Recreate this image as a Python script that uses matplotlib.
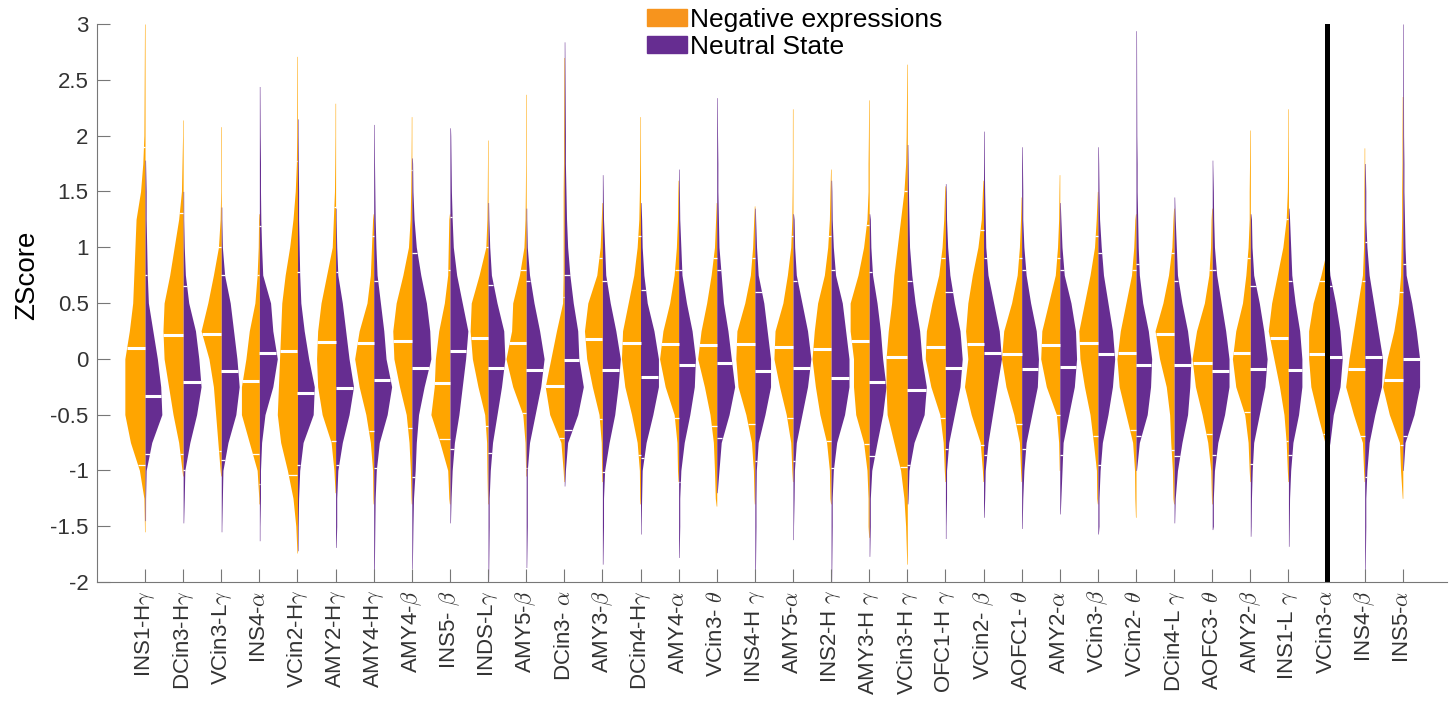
import numpy as np
import matplotlib
matplotlib.use("Agg")
import matplotlib.pyplot as plt
from matplotlib.patches import Patch

plt.rcParams['font.family'] = ['Liberation Sans', 'DejaVu Sans']
plt.rcParams['mathtext.fontset'] = 'cm'

# categorias (eixo x)
labels = ['INS1-H$\\gamma$', 'DCin3-H$\\gamma$', 'VCin3-L$\\gamma$', 'INS4-$\\alpha$',
          'VCin2-H$\\gamma$', 'AMY2-H$\\gamma$', 'AMY4-H$\\gamma$', 'AMY4-$\\beta$',
          'INS5- $\\beta$', 'INDS-L$\\gamma$', 'AMY5-$\\beta$', 'DCin3- $\\alpha$',
          'AMY3-$\\beta$', 'DCin4-H$\\gamma$', 'AMY4-$\\alpha$', 'VCin3- $\\theta$',
          'INS4-H $\\gamma$', 'AMY5-$\\alpha$', 'INS2-H $\\gamma$', 'AMY3-H $\\gamma$',
          'VCin3-H $\\gamma$', 'OFC1-H $\\gamma$', 'VCin2- $\\beta$', 'AOFC1- $\\theta$',
          'AMY2-$\\alpha$', 'VCin3-$\\beta$', 'VCin2- $\\theta$', 'DCin4-L $\\gamma$',
          'AOFC3- $\\theta$', 'AMY2-$\\beta$', 'INS1-L $\\gamma$', 'VCin3-$\\alpha$',
          'INS4-$\\beta$', 'INS5-$\\alpha$']

# niveis de zscore onde a densidade foi lida
levels = [-1.5, -1.25, -1.0, -0.75, -0.5, -0.25, 0.0, 0.25, 0.5, 0.75, 1.0, 1.25, 1.5, 1.75, 2.0]

# Negative expressions
neg_dens = [
    [0.5, 1, 5, 13, 18, 18, 18, 14, 11, 10, 9, 8, 4, 2, 1],
    [0, 0, 1, 4, 9, 13, 17, 18, 17, 12, 8, 4, 1.5, 1, 0.5],
    [0, 0, 1, 3, 5, 7, 11, 18, 12, 7, 2.5, 1, 0.5, 0.5, 0.5],
    [0, 0.5, 2, 9, 16, 16, 12, 9, 4, 2, 1, 0.7, 0, 0, 0],
    [1.5, 4, 9, 15, 18, 17, 16, 15, 14, 11, 7, 4, 2, 1, 0.7],
    [0, 1, 1.5, 4, 12, 16, 17, 16, 13, 8, 3, 2, 1, 0.7, 0.5],
    [0, 0.7, 1, 3, 7, 13, 17, 13, 6, 3, 2, 1, 0.5, 0, 0],
    [0, 0.7, 1.3, 2.5, 5, 11, 16, 17, 14, 8, 3, 1.5, 1, 0.7, 0.5],
    [0, 1, 2, 9, 17, 14, 13, 10, 5, 2, 1.5, 1, 0, 0, 0],
    [0, 0.5, 1, 1.3, 3, 9, 14, 16, 15, 8, 2, 1, 0.7, 0.5, 0],
    [0, 0, 0.5, 1, 3, 12, 18, 13, 12, 6, 2, 1, 0.7, 0.5, 0.5],
    [0, 0, 1, 3, 13, 17, 12, 7, 1.5, 1, 1, 1, 1, 0.7, 0.7],
    [0, 0, 0.7, 1, 3, 9, 14, 16, 13, 5, 2, 1, 0, 0, 0],
    [0, 0.7, 1, 3, 8, 14, 17, 16, 11, 6, 3, 1.5, 1, 0.7, 0.5],
    [0, 0, 1, 1.5, 4, 12, 17, 14, 8, 4, 2, 1, 0.7, 0, 0],
    [0, 1.3, 2, 3, 6, 11, 17, 14, 9, 5, 2, 1, 0, 0, 0],
    [0, 0.7, 1.3, 3, 8, 15, 17, 16, 9, 4, 2, 1, 0, 0, 0],
    [0, 0, 1, 2, 6, 12, 17, 16, 9, 5, 2, 1, 0.7, 0.5, 0.5],
    [0, 1, 1.5, 4, 10, 14, 17, 15, 12, 6, 3, 1.5, 1, 0, 0],
    [1, 1, 2, 5, 12, 14, 14, 17, 17, 10, 5, 2, 1, 1, 0.7],
    [1.5, 3, 6, 12, 18, 19, 19, 17, 14, 12, 9, 6, 3, 1.5, 1],
    [0, 0, 1, 2, 5, 13, 18, 17, 12, 6, 3, 1.5, 0.7, 0, 0],
    [0, 0, 1, 3, 11, 17, 14, 16, 14, 10, 5, 2, 1, 0, 0],
    [0, 0, 1, 2, 7, 14, 18, 16, 9, 4, 2, 1, 0, 0, 0],
    [0, 0, 0.5, 1, 3, 12, 17, 16, 10, 4, 2, 1, 0.7, 0, 0],
    [0, 1, 1.3, 4, 7, 12, 16, 17, 12, 7, 3, 1.5, 0.7, 0, 0],
    [0.7, 1, 1.3, 3, 9, 15, 17, 14, 9, 4, 2, 1, 0, 0, 0],
    [0, 1, 1.5, 3, 4, 7, 13, 17, 10, 5, 2, 1, 0, 0, 0],
    [0, 0.7, 1.3, 4, 9, 15, 18, 14, 7, 3, 1.5, 1, 0, 0, 0],
    [0, 0, 1, 2, 5, 13, 16, 13, 7, 4, 2, 1, 1, 0.7, 0.5],
    [0, 0, 1, 2, 4, 8, 13, 18, 15, 10, 5, 2, 1, 0.7, 0.5],
    [0, 0, 0.5, 1.5, 8, 14, 16, 16, 12, 5, 1, 0, 0, 0, 0],
    [0, 0, 1, 2, 10, 17, 14, 10, 6, 2, 1, 0.7, 0.7, 0.5, 0],
    [0, 0.5, 2, 3, 12, 18, 14, 8, 4, 2, 1.5, 1, 1, 0.7, 0.7],
]
neg_median = [0.10, 0.21, 0.22, -0.20, 0.07, 0.15, 0.14, 0.16, -0.22, 0.19, 0.14, -0.24,
              0.18, 0.14, 0.13, 0.12, 0.13, 0.11, 0.09, 0.16, 0.02, 0.11, 0.13, 0.04,
              0.12, 0.14, 0.05, 0.22, -0.04, 0.05, 0.19, 0.04, -0.09, -0.19]
neg_low = [-0.95, -0.85, -0.83, -0.85, -1.04, -0.74, -0.65, -0.62, -0.72, -0.60, -0.49, -0.71,
           -0.54, -0.86, -0.53, -0.60, -0.58, -0.53, -0.74, -0.76, -0.97, -0.53, -0.77, -0.58,
           -0.50, -0.69, -0.64, -0.82, -0.67, -0.48, -0.74, -0.67, -0.69, -0.77]
neg_high = [1.90, 1.31, 1.00, 0.75, 1.77, 1.36, 1.10, 1.69, 0.80, 1.00, 0.80, 0.55,
            0.90, 1.10, 0.80, 0.90, 0.90, 1.10, 1.10, 1.20, 1.50, 0.90, 1.15, 0.90,
            0.90, 1.10, 0.80, 0.95, 0.80, 0.90, 1.25, 0.70, 0.70, 0.60]
neg_min = [-1.55, -1.05, -1.05, -1.30, -1.74, -1.20, -1.30, -1.30, -1.30, -1.30, -1.05, -1.10,
           -1.10, -1.30, -1.10, -1.32, -1.30, -1.10, -1.30, -1.60, -1.84, -1.10, -1.10, -1.10,
           -1.00, -1.30, -1.42, -1.30, -1.30, -1.10, -1.10, -1.00, -1.10, -1.25]
neg_max = [3.00, 2.14, 2.08, 1.30, 2.71, 2.29, 1.30, 2.17, 1.30, 1.96, 2.37, 2.70,
           1.40, 2.17, 1.60, 1.40, 1.37, 2.24, 1.70, 2.32, 2.64, 1.55, 1.60, 1.45,
           1.65, 1.50, 1.30, 1.35, 1.35, 2.05, 2.24, 0.95, 1.89, 2.35]

# Neutral State
neu_dens = [
    [0, 0.5, 1, 6, 15, 14, 11, 7, 3, 2, 1.5, 1, 1, 0.5, 0],
    [0.5, 1, 1.5, 6, 12, 16, 14, 11, 5, 2, 1, 0.5, 0, 0, 0],
    [0.5, 1, 1.5, 6, 13, 16, 14, 11, 8, 3, 1, 0.5, 0, 0, 0],
    [0.5, 1, 1, 2, 5, 12, 16, 12, 10, 3, 2, 1.3, 1, 1, 0.7],
    [0.6, 1, 2, 5, 14, 15, 10, 6, 3, 2, 1.5, 1, 1, 0.7, 0.5],
    [1, 1, 2, 6, 12, 16, 12, 9, 6, 2, 1, 0.5, 0, 0, 0],
    [1, 1.3, 2.3, 5, 12, 16, 11, 9, 6, 3, 2, 1.3, 1, 0.7, 0.5],
    [1, 1.5, 3, 4, 6, 11, 17, 16, 13, 8, 4, 2, 1, 0.7, 0],
    [0.5, 1, 2, 4, 8, 11, 14, 16, 11, 6, 3, 2, 1.3, 1, 0.7],
    [1, 1, 2, 4, 8, 12, 15, 14, 8, 3, 1.5, 0.7, 0, 0, 0],
    [1, 1, 1, 3, 8, 13, 16, 12, 7, 3, 1, 0.5, 0, 0, 0],
    [0, 0, 1, 3, 12, 17, 13, 12, 8, 5, 3, 2, 1.5, 1, 1],
    [1, 1, 2, 6, 11, 14, 16, 12, 7, 3, 2, 1, 0.7, 0, 0],
    [0.5, 1, 1.5, 5, 11, 16, 16, 12, 6, 3, 1.5, 1, 0, 0, 0],
    [1, 1, 2, 5, 10, 14, 15, 12, 7, 3, 2, 1, 0.7, 0, 0],
    [0, 0, 2, 4, 11, 16, 13, 10, 6, 4, 2, 1.5, 1, 1, 0.7],
    [1, 1, 1.3, 3, 9, 14, 14, 11, 8, 3, 1.5, 0.7, 0, 0, 0],
    [0.5, 1, 1.3, 3, 8, 13, 16, 13, 8, 3, 1.5, 1, 0, 0, 0],
    [1, 1, 2, 5, 12, 16, 16, 13, 10, 4, 2, 1, 0.7, 0, 0],
    [1, 1, 2.3, 7, 12, 15, 12, 10, 7, 3, 1.5, 1, 0, 0, 0],
    [0, 0.7, 1.5, 6, 15, 17, 13, 11, 7, 4, 2, 1.5, 1, 0.7, 0],
    [0.5, 1, 1, 3, 8, 13, 15, 13, 8, 4, 2, 1, 0.7, 0, 0],
    [0, 1, 1.5, 4, 8, 12, 16, 14, 9, 4, 2, 1.5, 1, 0.7, 0.5],
    [0.5, 1, 2, 4, 9, 14, 15, 13, 8, 4, 2, 1, 1, 0.7, 0],
    [0, 1, 2, 3, 8, 13, 15, 14, 10, 4, 2, 1, 0, 0, 0],
    [1, 1, 2, 4, 9, 13, 15, 13, 9, 5, 3, 1.5, 1, 0.7, 0],
    [0, 0, 0.7, 3, 10, 13, 14, 11, 6, 3, 2, 1.5, 1, 1, 0.7],
    [0.5, 1, 3, 7, 12, 14, 15, 12, 7, 3, 2, 1, 0, 0, 0],
    [1, 1, 2, 5, 11, 15, 15, 12, 8, 4, 2, 1.3, 1, 0, 0],
    [0.7, 1, 1.7, 3, 8, 13, 15, 12, 8, 3, 1.5, 1, 0, 0, 0],
    [0.7, 1, 2, 4, 9, 12, 12, 10, 6, 3, 2, 1, 0, 0, 0],
    [0, 0, 0, 3, 6, 12, 14, 12, 8, 3, 1, 0, 0, 0, 0],
    [1, 1, 2, 4, 9, 15, 16, 12, 8, 4, 2, 1, 1, 0.7, 0],
    [0, 0, 0.5, 2, 10, 15, 15, 12, 8, 3, 2, 1.5, 1, 1, 0.7],
]
neu_median = [-0.33, -0.21, -0.11, 0.05, -0.31, -0.26, -0.19, -0.08, 0.07, -0.08, -0.10, -0.01,
              -0.10, -0.16, -0.06, -0.04, -0.11, -0.08, -0.17, -0.21, -0.28, -0.08, 0.05, -0.09,
              -0.07, 0.04, -0.06, -0.06, -0.11, -0.09, -0.10, 0.02, 0.02, 0.00]
neu_low = [-0.85, -1.00, -0.91, -1.12, -0.95, -0.95, -0.98, -1.06, -0.81, -0.84, -0.98, -0.64,
           -1.01, -0.89, -1.10, -0.71, -0.92, -0.92, -0.98, -0.87, -0.95, -0.81, -0.86, -0.81,
           -0.86, -0.95, -0.69, -0.87, -0.86, -0.94, -0.86, -0.80, -1.06, -0.69]
neu_high = [0.75, 0.65, 0.75, 1.19, 0.78, 0.78, 0.70, 0.95, 1.27, 0.66, 0.70, 0.75,
            0.70, 0.62, 0.80, 0.80, 0.60, 0.70, 0.80, 0.78, 0.70, 0.60, 0.90, 0.80,
            0.80, 0.95, 0.85, 0.70, 0.80, 0.65, 0.70, 0.65, 1.05, 0.85]
neu_min = [-1.45, -1.47, -1.55, -1.63, -1.72, -1.69, -2.00, -1.88, -1.47, -1.99, -1.87, -1.14,
           -1.84, -1.57, -1.78, -1.20, -1.96, -1.62, -2.00, -1.77, -1.30, -1.61, -1.42, -1.52,
           -1.39, -1.57, -1.00, -1.47, -1.53, -1.59, -1.68, -0.90, -1.90, -1.00]
neu_max = [1.78, 1.50, 1.36, 2.44, 2.15, 1.35, 2.10, 1.80, 2.07, 1.40, 1.35, 2.84,
           1.65, 1.40, 1.70, 2.34, 1.35, 1.30, 1.60, 1.30, 1.92, 1.57, 2.04, 1.90,
           1.40, 1.90, 2.94, 1.45, 1.78, 1.30, 1.35, 1.10, 1.75, 3.00]

divisoria = 32  # linha preta sobre VCin3-alpha

cor_neg = '#FFA500'
cor_neu = '#662D91'
cor_neg_leg = '#F7941D'
escala = 1 / 34.0   # densidade -> largura em unidades do eixo x
ponta = 0.45


def contorno(dens, vmin, vmax):
    ys = [vmin]
    ws = [ponta]
    for g, d in zip(levels, dens):
        if vmin < g < vmax:
            ys.append(g)
            ws.append(max(d, ponta))
    ys.append(vmax)
    ws.append(ponta)
    return np.array(ys), np.array(ws) * escala


fig = plt.figure(figsize=(14.55, 7.04), dpi=100)
ax = fig.add_axes([97 / 1455, 122 / 704, 1350 / 1455, 558 / 704])

for i in range(len(labels)):
    x = i + 1
    for lado, dens, med, lo, hi, vmin, vmax, cor in [
            (-1, neg_dens[i], neg_median[i], neg_low[i], neg_high[i], neg_min[i], neg_max[i], cor_neg),
            (1, neu_dens[i], neu_median[i], neu_low[i], neu_high[i], neu_min[i], neu_max[i], cor_neu)]:
        ys, ws = contorno(dens, vmin, vmax)
        ax.fill_betweenx(ys, x, x + lado * ws, color=cor, linewidth=0)
        # mediana (grossa) e marcas (finas)
        wm = np.interp(med, ys, ws)
        ax.plot([x, x + lado * wm], [med, med], color='white', lw=2.2, solid_capstyle='butt')
        for v in (lo, hi):
            wv = np.interp(v, ys, ws)
            ax.plot([x, x + lado * wv], [v, v], color='white', lw=0.9, solid_capstyle='butt')

ax.axvline(divisoria, color='black', lw=3.6)

ax.set_xlim(-0.26, 35.16)
ax.set_ylim(-2, 3)
ax.set_xticks(range(1, len(labels) + 1))
ax.set_xticklabels(labels, rotation=90, fontsize=16)
yt = [-2, -1.5, -1, -0.5, 0, 0.5, 1, 1.5, 2, 2.5, 3]
ax.set_yticks(yt)
ax.set_yticklabels([f'{v:g}' for v in yt], fontsize=16)
ax.tick_params(direction='in', length=9.5, width=0.8, color='#777777', labelcolor='#333333', pad=6)
for s in ['top', 'right']:
    ax.spines[s].set_visible(False)
for s in ['left', 'bottom']:
    ax.spines[s].set_color('#777777')
    ax.spines[s].set_linewidth(0.8)

ax.set_ylabel('ZScore', fontsize=20)
ax.yaxis.set_label_coords(-0.042, 0.55)

handles = [Patch(color=cor_neg_leg, label='Negative expressions'),
           Patch(color=cor_neu, label='Neutral State')]
ax.legend(handles=handles, loc='upper left', bbox_to_anchor=(647 / 1455, 1 - 8 / 704),
          bbox_transform=fig.transFigure, frameon=False, fontsize=19,
          handlelength=1.5, handleheight=0.6, handletextpad=0.12, labelspacing=0.1,
          borderpad=0, borderaxespad=0)

fig.savefig('out.png', dpi=100)
